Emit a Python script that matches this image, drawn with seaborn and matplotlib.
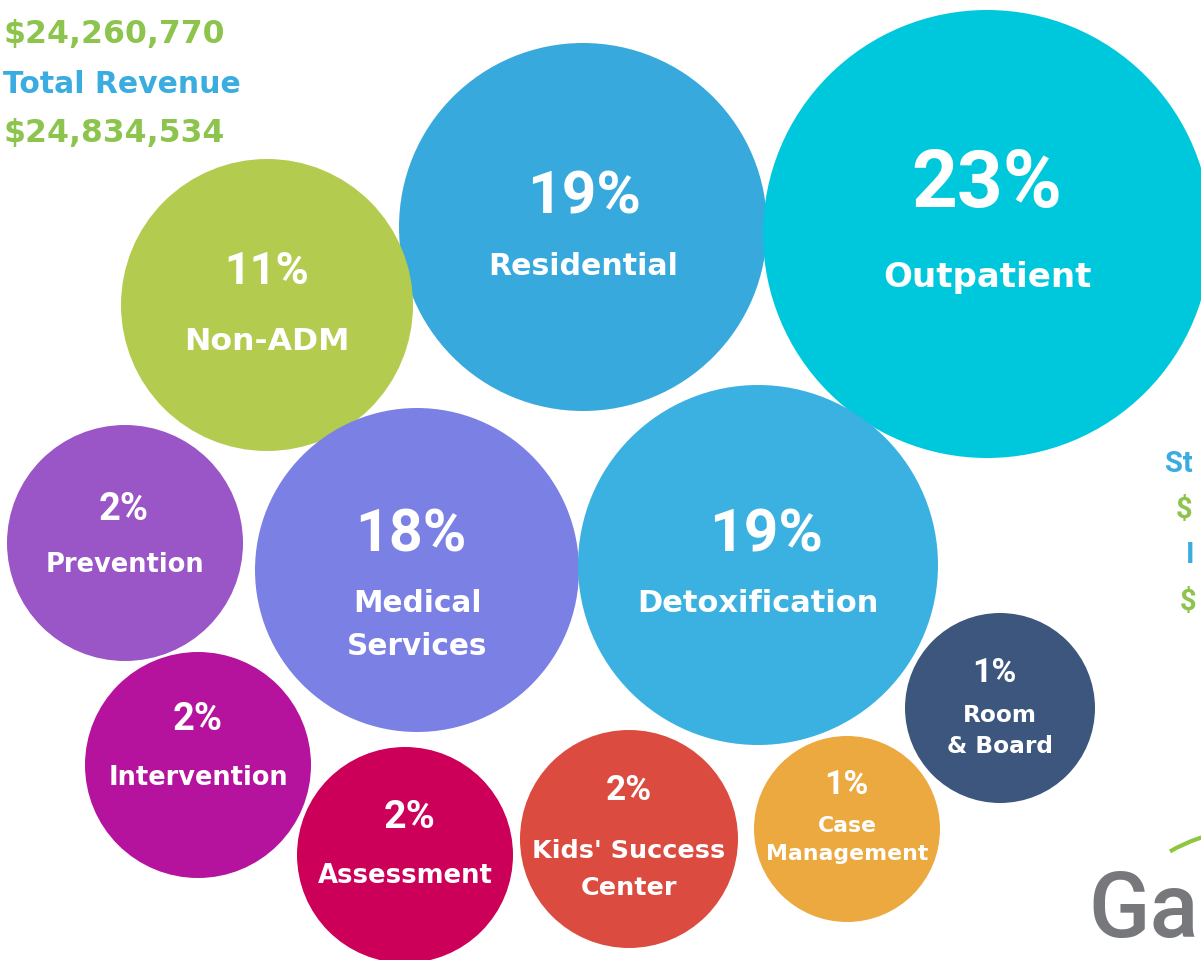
import matplotlib
matplotlib.use("Agg")
import numpy as np
import pandas as pd
import seaborn as sns
import matplotlib.pyplot as plt
from matplotlib.patches import Arc

# données
categories = ["Residential", "Outpatient", "Non-ADM", "Prevention", "Medical Services",
              "Detoxification", "Intervention", "Assessment", "Kids' Success Center",
              "Case Management", "Room & Board"]
percents = [19, 23, 11, 2, 18, 19, 2, 2, 2, 1, 1]
label_lines = [["Residential"], ["Outpatient"], ["Non-ADM"], ["Prevention"],
               ["Medical", "Services"], ["Detoxification"], ["Intervention"],
               ["Assessment"], ["Kids' Success", "Center"], ["Case", "Management"],
               ["Room", "& Board"]]
colors = ["#38A9DC", "#00C8DC", "#B3CC4F", "#9A55C6", "#7B80E4", "#3BB1E1",
          "#B5139D", "#CD0059", "#DC4B40", "#EBA940", "#3C567D"]

expense_total = "$24,260,770"
revenue_title = "Total Revenue"
revenue_total = "$24,834,534"
side_bits = ["St", "$", "I", "$"]
logo_text = "Ga"

# mise en page (pixels)
cx = [583, 987, 267, 125, 417, 758, 198, 405, 629, 847, 1000]
cy = [227, 234, 305, 543, 570, 565, 765, 855, 839, 829, 708]
rad = [184, 224, 146, 118, 162, 180, 113, 108, 109, 93, 95]
pct_x = [584, 987, 267, 124, 411, 766, 198, 410, 629, 846, 994]
pct_base = [213, 207, 284, 520, 552, 551, 730, 828, 800, 794, 682]
pct_h = [43, 57, 32, 27, 42, 43, 27, 28, 25, 24, 24]
line_base = [[275], [287], [350], [572], [612, 655], [612], [785], [883],
             [858, 895], [832, 860], [722, 753]]
label_w = [190, 208, 165, 159, 141, 242, 179, 174, 193, 162, 106]

W, H = 1201, 960
fig = plt.figure(figsize=(W / 100, H / 100), dpi=100)
ax = fig.add_axes([0, 0, 1, 1])
ax.set_xlim(0, W)
ax.set_ylim(H, 0)
ax.axis("off")

df = pd.DataFrame({"category": categories, "x": cx, "y": cy,
                   "area": [(1.44 * r) ** 2 for r in rad]})
amin, amax = df["area"].min(), df["area"].max()
sns.scatterplot(data=df, x="x", y="y", hue="category",
                palette=dict(zip(categories, colors)), size="area",
                sizes=(amin, amax), size_norm=(amin, amax), linewidth=0,
                alpha=1, legend=False, ax=ax)

renderer = fig.canvas.get_renderer()


def fitted_size(strings, target, family, weight="bold"):
    """taille de police pour que la ligne la plus large fasse target px"""
    widest = 0
    for s in strings:
        t = ax.text(0, 0, s, fontsize=20, family=family, weight=weight)
        widest = max(widest, t.get_window_extent(renderer).width)
        t.remove()
    return 20 * target / widest


bubble_font = "DejaVu Sans"
for i in range(len(categories)):
    # hauteur des chiffres ~0.71 em pour Roboto Bold
    fs = pct_h[i] / 0.711 * 0.72
    ax.text(pct_x[i], pct_base[i], f"{percents[i]}%", fontsize=fs, color="white",
            weight="bold", family="Roboto", ha="center", va="baseline")
    fs = fitted_size(label_lines[i], label_w[i], bubble_font)
    for line, yb in zip(label_lines[i], line_base[i]):
        ax.text(cx[i], yb, line, fontsize=fs, color="white", weight="bold",
                family=bubble_font, ha="center", va="baseline")

# textes en haut à gauche
green, blue = "#8DC44E", "#3AACE0"
top_texts = [expense_total, revenue_title, revenue_total]
top_base = [43, 93, 142]
top_w = [222, 238, 222]
top_col = [green, blue, green]
for s, yb, w, c in zip(top_texts, top_base, top_w, top_col):
    fs = fitted_size([s], w, "DejaVu Sans")
    ax.text(3, yb, s, fontsize=fs, color=c, weight="bold",
            family="DejaVu Sans", ha="left", va="baseline")

# colonne de droite, presque hors cadre
side_x = [1165, 1176, 1186, 1180]
side_y = [472, 518, 563, 610]
side_c = [blue, green, blue, green]
for s, x, y, c in zip(side_bits, side_x, side_y, side_c):
    ax.text(x, y, s, fontsize=21, color=c, weight="bold", family="Roboto",
            ha="left", va="baseline")

# logo
fs = min(fitted_size([logo_text], 110, "Roboto", weight="medium"), 66 / 0.711 * 0.72)
ax.text(1088, 937, logo_text, fontsize=fs, color="#77787B", family="Roboto",
        weight="medium", ha="left", va="baseline")
ax.add_patch(Arc((1250, 990), 320, 320, theta1=-120, theta2=-98,
                 color="#8DC63F", lw=3))

fig.savefig("out.png", dpi=100)
